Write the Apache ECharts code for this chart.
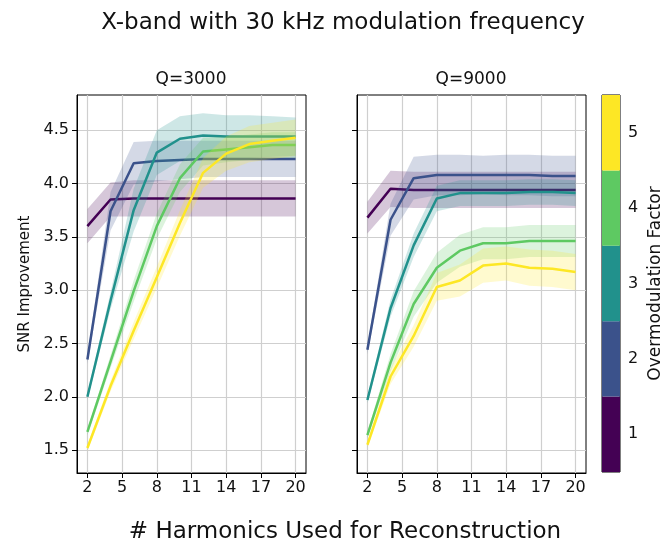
<!DOCTYPE html>
<html>
<head>
<meta charset="utf-8">
<script src="https://cdn.jsdelivr.net/npm/echarts@6/dist/echarts.min.js"></script>
<style>
  html, body { margin: 0; padding: 0; background: #fff; }
  #chart { width: 665px; height: 546px; }
</style>
</head>
<body>
<div id="chart"></div>
<script>
const harmonics = [2, 4, 6, 8, 10, 12, 14, 16, 18, 20];
const xTicks = [2, 5, 8, 11, 14, 17, 20];
const yTicks = [1.5, 2.0, 2.5, 3.0, 3.5, 4.0, 4.5];
const factors = [1, 2, 3, 4, 5];
const factorColors = ["#440154", "#3b528b", "#21918c", "#5ec962", "#fde725"];

// Q=3000 mean SNR improvement per overmodulation factor
const q3000_f1 = [3.60, 3.85, 3.86, 3.86, 3.86, 3.86, 3.86, 3.86, 3.86, 3.86];
const q3000_f2 = [2.35, 3.74, 4.19, 4.21, 4.22, 4.23, 4.23, 4.23, 4.23, 4.23];
const q3000_f3 = [2.00, 2.90, 3.75, 4.29, 4.42, 4.45, 4.44, 4.44, 4.44, 4.44];
const q3000_f4 = [1.67, 2.33, 2.99, 3.60, 4.05, 4.30, 4.32, 4.34, 4.36, 4.36];
const q3000_f5 = [1.52, 2.10, 2.62, 3.12, 3.63, 4.10, 4.28, 4.37, 4.40, 4.43];
// Q=3000 spread (half width of shaded band)
const q3000_f1_sd = [0.16, 0.16, 0.17, 0.17, 0.17, 0.17, 0.17, 0.17, 0.17, 0.17];
const q3000_f2_sd = [0.04, 0.18, 0.20, 0.19, 0.18, 0.17, 0.17, 0.17, 0.17, 0.17];
const q3000_f3_sd = [0.03, 0.08, 0.20, 0.21, 0.21, 0.21, 0.20, 0.20, 0.19, 0.18];
const q3000_f4_sd = [0.03, 0.06, 0.10, 0.12, 0.13, 0.13, 0.12, 0.12, 0.12, 0.12];
const q3000_f5_sd = [0.03, 0.05, 0.08, 0.10, 0.12, 0.14, 0.16, 0.17, 0.17, 0.17];

// Q=9000 mean SNR improvement per overmodulation factor
const q9000_f1 = [3.68, 3.95, 3.94, 3.94, 3.94, 3.94, 3.94, 3.94, 3.94, 3.94];
const q9000_f2 = [2.44, 3.66, 4.05, 4.08, 4.08, 4.08, 4.08, 4.08, 4.07, 4.07];
const q9000_f3 = [1.97, 2.83, 3.42, 3.86, 3.91, 3.91, 3.91, 3.92, 3.92, 3.91];
const q9000_f4 = [1.64, 2.32, 2.87, 3.21, 3.37, 3.44, 3.44, 3.46, 3.46, 3.46];
const q9000_f5 = [1.55, 2.19, 2.57, 3.03, 3.09, 3.23, 3.25, 3.21, 3.20, 3.17];
// Q=9000 spread
const q9000_f1_sd = [0.15, 0.17, 0.17, 0.17, 0.17, 0.17, 0.17, 0.17, 0.17, 0.17];
const q9000_f2_sd = [0.04, 0.15, 0.20, 0.19, 0.19, 0.18, 0.19, 0.19, 0.19, 0.19];
const q9000_f3_sd = [0.03, 0.08, 0.11, 0.12, 0.12, 0.12, 0.12, 0.12, 0.12, 0.12];
const q9000_f4_sd = [0.03, 0.08, 0.12, 0.14, 0.15, 0.15, 0.15, 0.15, 0.15, 0.15];
const q9000_f5_sd = [0.03, 0.07, 0.10, 0.13, 0.15, 0.16, 0.16, 0.17, 0.17, 0.17];

const panels = [
  { means: [q3000_f1, q3000_f2, q3000_f3, q3000_f4, q3000_f5],
    sds: [q3000_f1_sd, q3000_f2_sd, q3000_f3_sd, q3000_f4_sd, q3000_f5_sd] },
  { means: [q9000_f1, q9000_f2, q9000_f3, q9000_f4, q9000_f5],
    sds: [q9000_f1_sd, q9000_f2_sd, q9000_f3_sd, q9000_f4_sd, q9000_f5_sd] }
];

const FONT = '"DejaVu Sans", sans-serif';
const TEXT = "#111";

const chart = echarts.init(document.getElementById("chart"), null, { renderer: "canvas" });

function bandSeries(gi, mean, sd, color, z) {
  return {
    type: "custom",
    xAxisIndex: gi,
    yAxisIndex: gi,
    z: z,
    silent: true,
    encode: { x: 0, y: [1, 2] },
    data: harmonics.map((x, i) => [x, mean[i] - sd[i], mean[i] + sd[i]]),
    renderItem: function (params, api) {
      if (params.dataIndex !== 0) return null;
      const n = params.dataInsideLength;
      const upper = [], lower = [];
      for (let j = 0; j < n; j++) {
        upper.push(api.coord([api.value(0, j), api.value(2, j)]));
        lower.push(api.coord([api.value(0, j), api.value(1, j)]));
      }
      return {
        type: "polygon",
        shape: { points: upper.concat(lower.reverse()) },
        style: { fill: color, opacity: 0.22 }
      };
    }
  };
}

const series = [];
panels.forEach((p, gi) => {
  factors.forEach((f, k) => {
    series.push(bandSeries(gi, p.means[k], p.sds[k], factorColors[k], 2 + k * 2));
    series.push({
      type: "line",
      xAxisIndex: gi,
      yAxisIndex: gi,
      z: 3 + k * 2,
      symbol: "none",
      silent: true,
      lineStyle: { width: 2.5, color: factorColors[k] },
      data: harmonics.map((x, i) => [x, p.means[k][i]])
    });
  });
});

// colorbar
series.push({
  type: "custom",
  xAxisIndex: 2,
  yAxisIndex: 2,
  silent: true,
  encode: { x: 0, y: 1 },
  data: factors.map(f => [0, f]),
  renderItem: function (params, api) {
    const v = api.value(1);
    const a = api.coord([0, v - 0.5]);
    const b = api.coord([1, v + 0.5]);
    return {
      type: "rect",
      shape: { x: a[0], y: b[1], width: b[0] - a[0], height: a[1] - b[1] },
      style: { fill: factorColors[v - 1] }
    };
  }
});

function xAxisFor(gi) {
  return {
    type: "value",
    gridIndex: gi,
    min: 1.1,
    max: 20.9,
    axisLine: { show: true, onZero: false, lineStyle: { color: "#000", width: 1 } },
    axisTick: { show: true, length: 5, customValues: xTicks, lineStyle: { color: "#000" } },
    axisLabel: { customValues: xTicks, fontSize: 16, fontFamily: FONT, color: TEXT, margin: 7 },
    splitLine: { show: true, lineStyle: { color: "#cfcfcf", width: 1.2 } }
  };
}

function yAxisFor(gi) {
  return {
    type: "value",
    gridIndex: gi,
    min: 1.285,
    max: 4.83,
    axisLine: { show: true, onZero: false, lineStyle: { color: "#000", width: 1 } },
    axisTick: { show: true, length: 5, customValues: yTicks, lineStyle: { color: "#000" } },
    axisLabel: {
      show: gi === 0, customValues: yTicks, fontSize: 16, fontFamily: FONT, color: TEXT, margin: 8,
      formatter: v => v.toFixed(1)
    },
    splitLine: { show: true, lineStyle: { color: "#cfcfcf", width: 1.2 } },
    name: gi === 0 ? "SNR Improvement" : "",
    nameLocation: "middle",
    nameGap: 44,
    nameRotate: 90,
    nameTextStyle: { fontSize: 15, fontFamily: FONT, color: TEXT }
  };
}

const option = {
  animation: false,
  backgroundColor: "#fff",
  grid: [
    { left: 77, top: 95, width: 229, height: 378, show: true, borderColor: "#000", borderWidth: 1, backgroundColor: "transparent" },
    { left: 357, top: 95, width: 229, height: 378, show: true, borderColor: "#000", borderWidth: 1, backgroundColor: "transparent" },
    { left: 602, top: 95, width: 19, height: 377, show: true, borderColor: "#000", borderWidth: 1, backgroundColor: "transparent" }
  ],
  xAxis: [
    xAxisFor(0),
    xAxisFor(1),
    { type: "value", gridIndex: 2, min: 0, max: 1, show: false }
  ],
  yAxis: [
    yAxisFor(0),
    yAxisFor(1),
    {
      type: "value",
      gridIndex: 2,
      position: "right",
      min: 0.5,
      max: 5.5,
      axisLine: { show: false },
      axisTick: { show: true, length: 4, customValues: factors, lineStyle: { color: "#000" } },
      axisLabel: { customValues: factors, fontSize: 16, fontFamily: FONT, color: TEXT, margin: 8 },
      splitLine: { show: false },
      name: "Overmodulation Factor",
      nameLocation: "middle",
      nameGap: 27,
      nameRotate: 90,
      nameTextStyle: { fontSize: 17, fontFamily: FONT, color: TEXT }
    }
  ],
  graphic: [
    { type: "text", x: 343, y: 23, style: { text: "X-band with 30 kHz modulation frequency", font: '23px ' + FONT, fill: TEXT, align: "center", verticalAlign: "middle" } },
    { type: "text", x: 191, y: 80, style: { text: "Q=3000", font: '17px ' + FONT, fill: TEXT, align: "center", verticalAlign: "middle" } },
    { type: "text", x: 471, y: 80, style: { text: "Q=9000", font: '17px ' + FONT, fill: TEXT, align: "center", verticalAlign: "middle" } },
    { type: "text", x: 345, y: 532, style: { text: "# Harmonics Used for Reconstruction", font: '23px ' + FONT, fill: TEXT, align: "center", verticalAlign: "middle" } }
  ],
  series: series
};

chart.setOption(option);
</script>
</body>
</html>
